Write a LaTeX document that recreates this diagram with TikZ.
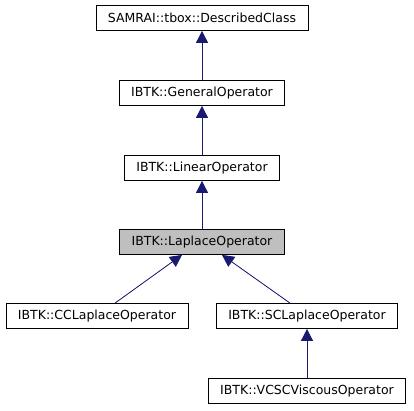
\documentclass[tikz,border=0pt]{standalone}
\usepackage{fontspec}
\setmainfont{DejaVu Sans}
\usetikzlibrary{arrows.meta}
\definecolor{edgeblue}{HTML}{191970}
\definecolor{curgray}{HTML}{BFBFBF}
\begin{document}
\begin{tikzpicture}[
	x=1pt, y=1pt,
	c/.style = {rectangle, draw=black, fill=white, line width=0.8pt, minimum height=25, inner xsep=12, font=\fontsize{12.5}{15}\selectfont},
	h/.style = {c, fill=curgray},
	e/.style = {{Triangle[length=12pt, width=12pt]}-, draw=edgeblue, fill=edgeblue, line width=0.8pt}
	]
	\useasboundingbox (0,0) rectangle (414,-411);
	
	%Nodes
	\node[c]	(dc)	at	(202, -18)	{SAMRAI::tbox::DescribedClass};
	\node[c]	(go)	at	(202, -93)	{IBTK::GeneralOperator};
	\node[c]	(lo)	at	(202, -168)	{IBTK::LinearOperator};
	\node[h]	(la)	at	(202, -242)	{IBTK::LaplaceOperator};
	\node[c]	(cc)	at	(97, -316)	{IBTK::CCLaplaceOperator};
	\node[c]	(sc)	at	(307, -316)	{IBTK::SCLaplaceOperator};
	\node[c]	(vc)	at	(307, -391)	{IBTK::VCSCViscousOperator};
	
	%Lines
	\draw[e]	([xshift=-20]la.south)	to	([xshift=18]cc.north);
	\draw[e]	([xshift=20]la.south)	to	([xshift=-17]sc.north);
	\draw[e]	(dc)	to	(go);
	\draw[e]	(go)	to	(lo);
	\draw[e]	(lo)	to	(la);
	\draw[e]	(sc)	to	(vc);
\end{tikzpicture}
\end{document}
